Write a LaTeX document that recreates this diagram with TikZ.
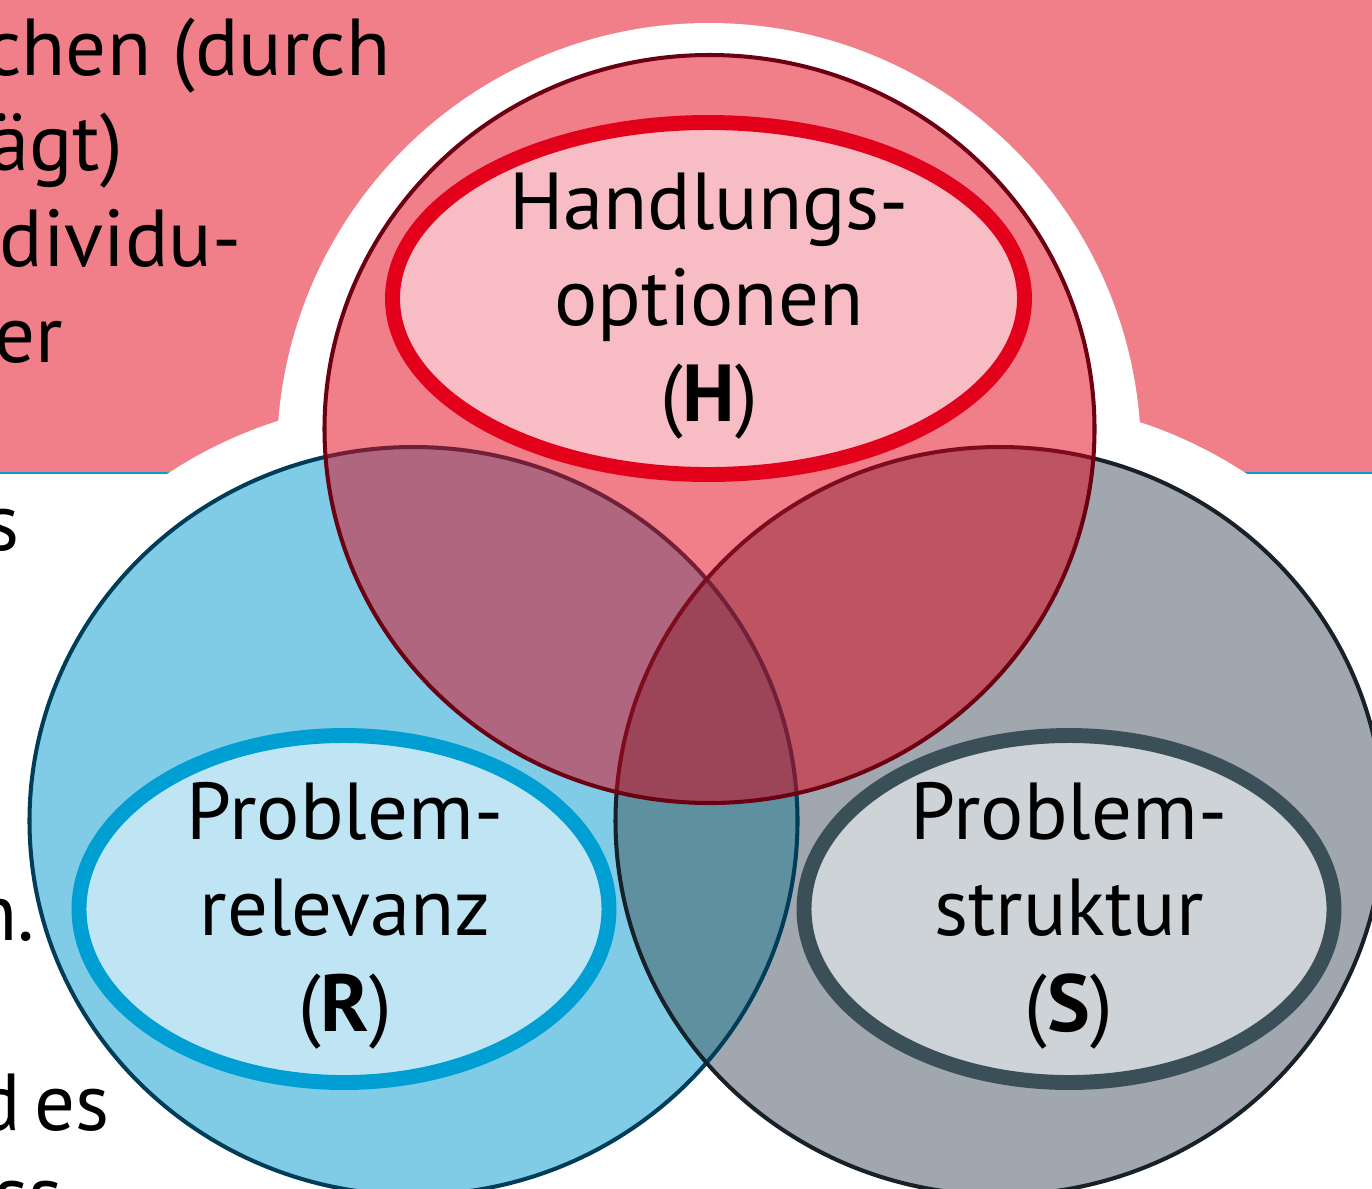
\documentclass[tikz,border=0pt]{standalone}
\usepackage{fontspec}
\setmainfont{PT Sans}
\usetikzlibrary{positioning}
\definecolor{bandPink}{HTML}{F07F8A}
\definecolor{bandBlue}{HTML}{0E9BD2}
\definecolor{hFill}{HTML}{F07F8A}
\definecolor{hLine}{HTML}{6B0012}
\definecolor{rFill}{HTML}{80CCE6}
\definecolor{rLine}{HTML}{003D58}
\definecolor{sFill}{HTML}{A0A7AE}
\definecolor{sLine}{HTML}{17212A}
\definecolor{hrFill}{HTML}{B0667E}
\definecolor{hsFill}{HTML}{BE5361}
\definecolor{rsFill}{HTML}{5F90A0}
\definecolor{hrsFill}{HTML}{9C4558}
\definecolor{rLineIn}{HTML}{72203A}
\definecolor{sLineIn}{HTML}{7E0C1E}
\definecolor{hCore}{HTML}{F7BCC4}
\definecolor{hRing}{HTML}{E2001A}
\definecolor{rCore}{HTML}{BFE4F3}
\definecolor{rRing}{HTML}{009FD3}
\definecolor{sCore}{HTML}{CDD3D7}
\definecolor{sRing}{HTML}{3B4F59}
\tikzset{
  ringline/.style  = {line width=2.3pt},
  corering/.style  = {line width=8.5pt},
  lbl/.style       = {font=\fontsize{46}{54.6}\selectfont, align=center, inner sep=0pt, anchor=base},
  sidetxt/.style   = {font=\fontsize{46}{54.6}\selectfont, anchor=base east, inner sep=0pt},
}
\newcommand{\ringH}{(709.5,-429) ellipse [x radius=385, y radius=374]}
\newcommand{\ringR}{(413.5,-821) ellipse [x radius=384, y radius=374]}
\newcommand{\ringS}{(999.5,-821) ellipse [x radius=384, y radius=374]}
\begin{document}
\begin{tikzpicture}[x=0.02cm, y=0.02cm]
  \clip (0,0) rectangle (1372,-1188);
  % pink band with blue rule
  \fill[bandPink] (0,0) rectangle (1372,-472);
  \draw[bandBlue, line width=1.1pt] (0,-473) -- (1372,-473);
  % white halo round the rings
  \fill[white] (709,-455) circle [radius=432];
  \fill[white] (413.5,-847) circle [radius=447];
  \fill[white] (1000.5,-847) circle [radius=447];
  % text cut off at the left edge
  \node[sidetxt] (t1) at (391,-75)   {chen (durch};
  \node[sidetxt] (t2) at (123,-170)  {ägt)};
  \node[sidetxt] (t3) at (242,-266)  {dividu-};
  \node[sidetxt] (t4) at (63,-362)   {er};
  \node[sidetxt] (t5) at (20,-550)   {s};
  \node[sidetxt] (t6) at (35,-940)   {n.};
  \node[sidetxt] (t7) at (110,-1130) {d\,es};
  \node[sidetxt] (t8) at (63,-1222)  {ss};
  % lower rings
  \fill[rFill] \ringR;
  \fill[sFill] \ringS;
  \begin{scope}
    \clip \ringR;
    \fill[rsFill] \ringS;
  \end{scope}
  \draw[ringline, rLine] \ringR;
  \draw[ringline, sLine] \ringS;
  % upper ring and its overlaps
  \fill[hFill] \ringH;
  \begin{scope}
    \clip \ringH;
    \fill[hrFill] \ringR;
    \fill[hsFill] \ringS;
    \clip \ringR;
    \fill[hrsFill] \ringS;
  \end{scope}
  \begin{scope}
    \clip \ringH;
    \draw[ringline, rLineIn] \ringR;
    \draw[ringline, sLineIn] \ringS;
  \end{scope}
  \draw[ringline, hLine] \ringH;
  % inner ellipses
  \draw[corering, hRing, fill=hCore] (708.5,-298.5) ellipse [x radius=316, y radius=176];
  \draw[corering, rRing, fill=rCore] (344,-909) ellipse [x radius=265, y radius=173.5];
  \draw[corering, sRing, fill=sCore] (1069,-909) ellipse [x radius=265, y radius=173.5];
  % labels (anchored at the last line)
  \node[lbl] (hTxt) at (709,-421)  {Handlungs-\\optionen\\(\textbf{H})};
  \node[lbl] (rTxt) at (345,-1031) {Problem-\\relevanz\\(\textbf{R})};
  \node[lbl] (sTxt) at (1069,-1031) {Problem-\\struktur\\(\textbf{S})};
\end{tikzpicture}
\end{document}
